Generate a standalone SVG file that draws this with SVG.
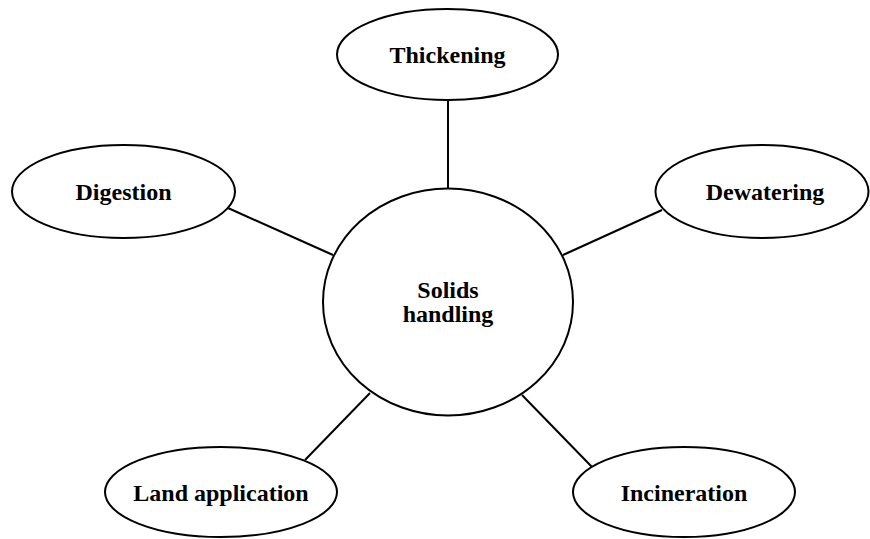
<svg xmlns="http://www.w3.org/2000/svg" width="870" height="539" viewBox="0 0 870 539">
<style>
.n{fill:#fff;stroke:#000;stroke-width:2}
.c line{stroke:#000;stroke-width:2}
text{font-family:"Liberation Serif","Times New Roman",serif;font-weight:bold;font-size:24px;text-anchor:middle;fill:#000}
</style>
<rect width="870" height="539" fill="#fff"/>
<g class="c" id="connectors">
<line x1="448" y1="100" x2="448" y2="189"/>
<line x1="228" y1="208" x2="333" y2="255"/>
<line x1="662" y1="210" x2="563" y2="255"/>
<line x1="305" y1="460" x2="370" y2="393"/>
<line x1="522" y1="395" x2="592" y2="467"/>
</g>
<g id="center">
<ellipse class="n" cx="448" cy="302" rx="125" ry="113.5"/>
<text x="448" y="298">Solids</text>
<text x="448" y="322">handling</text>
</g>
<g id="thickening">
<ellipse class="n" cx="447.5" cy="54.5" rx="110.5" ry="45.5"/>
<text x="447.5" y="63">Thickening</text>
</g>
<g id="digestion">
<ellipse class="n" cx="123.5" cy="191.5" rx="111.5" ry="46.5"/>
<text x="123.5" y="200">Digestion</text>
</g>
<g id="dewatering">
<ellipse class="n" cx="762" cy="191.5" rx="106.5" ry="46.5"/>
<text x="765" y="200">Dewatering</text>
</g>
<g id="land">
<ellipse class="n" cx="221" cy="492" rx="116" ry="45"/>
<text x="221" y="501">Land application</text>
</g>
<g id="incineration">
<ellipse class="n" cx="684" cy="492" rx="111" ry="45"/>
<text x="684" y="501">Incineration</text>
</g>
</svg>
